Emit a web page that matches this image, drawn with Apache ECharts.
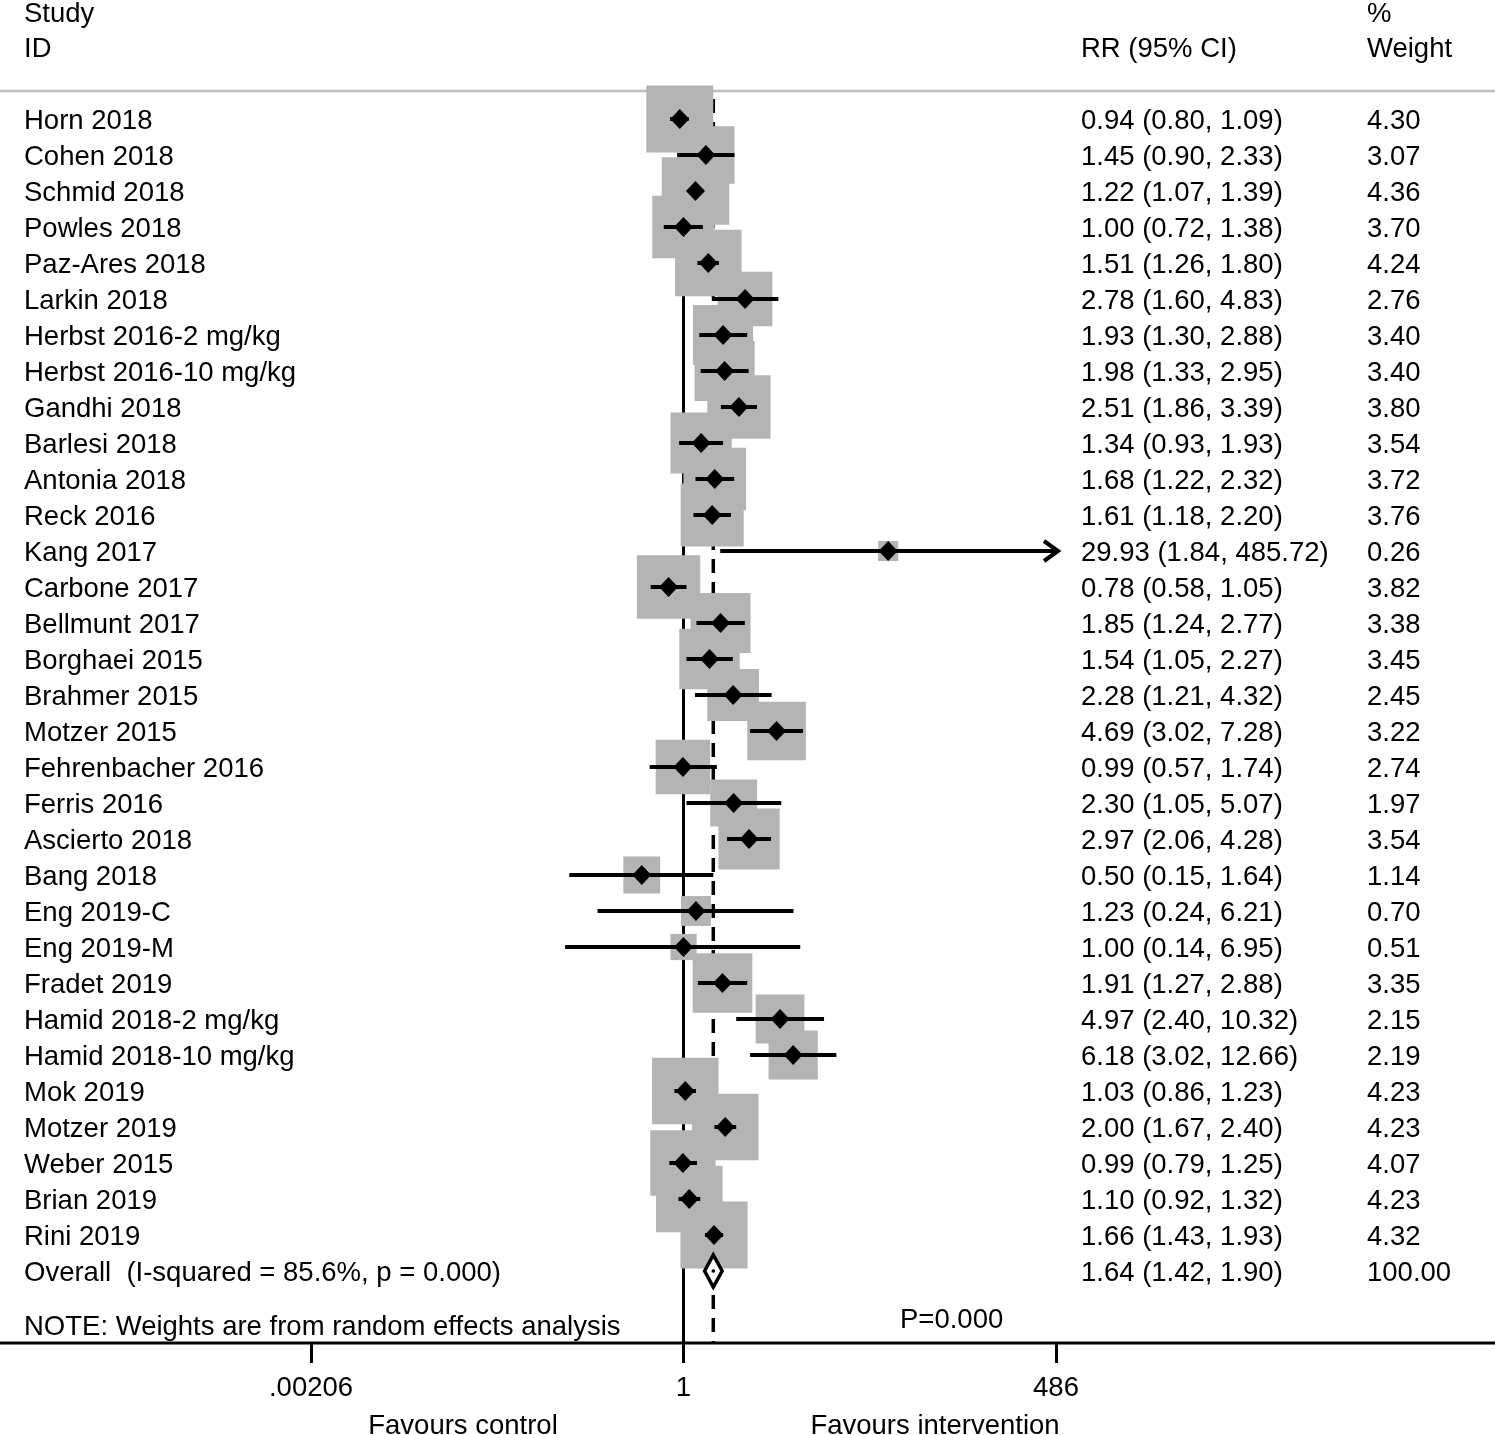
<!DOCTYPE html>
<html>
<head>
<meta charset="utf-8">
<script src="https://cdn.jsdelivr.net/npm/echarts@6/dist/echarts.min.js"></script>
<style>
html,body{margin:0;padding:0;background:#fff;}
#chart{width:1495px;height:1435px;}
</style>
</head>
<body>
<div id="chart"></div>
<script>
const studies = ['Horn 2018','Cohen 2018','Schmid 2018','Powles 2018','Paz-Ares 2018','Larkin 2018','Herbst 2016-2 mg/kg','Herbst 2016-10 mg/kg','Gandhi 2018','Barlesi 2018','Antonia 2018','Reck 2016','Kang 2017','Carbone 2017','Bellmunt 2017','Borghaei 2015','Brahmer 2015','Motzer 2015','Fehrenbacher 2016','Ferris 2016','Ascierto 2018','Bang 2018','Eng 2019-C','Eng 2019-M','Fradet 2019','Hamid 2018-2 mg/kg','Hamid 2018-10 mg/kg','Mok 2019','Motzer 2019','Weber 2015','Brian 2019','Rini 2019'];
const rr = [0.94,1.45,1.22,1.00,1.51,2.78,1.93,1.98,2.51,1.34,1.68,1.61,29.93,0.78,1.85,1.54,2.28,4.69,0.99,2.30,2.97,0.50,1.23,1.00,1.91,4.97,6.18,1.03,2.00,0.99,1.10,1.66];
const lo = [0.80,0.90,1.07,0.72,1.26,1.60,1.30,1.33,1.86,0.93,1.22,1.18,1.84,0.58,1.24,1.05,1.21,3.02,0.57,1.05,2.06,0.15,0.24,0.14,1.27,2.40,3.02,0.86,1.67,0.79,0.92,1.43];
const hi = [1.09,2.33,1.39,1.38,1.80,4.83,2.88,2.95,3.39,1.93,2.32,2.20,485.72,1.05,2.77,2.27,4.32,7.28,1.74,5.07,4.28,1.64,6.21,6.95,2.88,10.32,12.66,1.23,2.40,1.25,1.32,1.93];
const weights = [4.30,3.07,4.36,3.70,4.24,2.76,3.40,3.40,3.80,3.54,3.72,3.76,0.26,3.82,3.38,3.45,2.45,3.22,2.74,1.97,3.54,1.14,0.70,0.51,3.35,2.15,2.19,4.23,4.23,4.07,4.23,4.32];
const overallLabel = 'Overall  (I-squared = 85.6%, p = 0.000)';
const overallRR = 1.64, overallLo = 1.42, overallHi = 1.90, overallWeight = 100.00;
const tickLabels = ['.00206', '1', '486'];
const axisMin = 1/486, axisMax = 486;

const FONT = '27.5px "Liberation Sans", Arial, Helvetica, sans-serif';
const FF = '"Liberation Sans", Arial, Helvetica, sans-serif';
const nRows = studies.length;
const overallRow = nRows;
const TDY = 2;

const studyData = studies.map((s, i) => [rr[i], i, lo[i], hi[i], weights[i]]);
const textData = studies.map((s, i) => [rr[i], i]).concat([[overallRR, overallRow]]);
const allNames = studies.concat([overallLabel]);
const allRRText = rr.map((v, i) => v.toFixed(2) + ' (' + lo[i].toFixed(2) + ', ' + hi[i].toFixed(2) + ')')
  .concat([overallRR.toFixed(2) + ' (' + overallLo.toFixed(2) + ', ' + overallHi.toFixed(2) + ')']);
const allWText = weights.map(v => v.toFixed(2)).concat([overallWeight.toFixed(2)]);

const yMin = -0.7778, yMax = 34;

function gtext(x, y, t, center) {
  const st = { text: t, font: FONT, fill: '#000', verticalAlign: 'middle', textVerticalAlign: 'middle' };
  if (center) { st.align = 'center'; st.textAlign = 'center'; }
  return { type: 'text', x: x, y: y + TDY, style: st };
}

const chart = echarts.init(document.getElementById('chart'));
const option = {
  backgroundColor: '#fff',
  animation: false,
  grid: { left: 311, right: 439, top: 91, bottom: 92, containLabel: false },
  xAxis: {
    type: 'log', logBase: 486, min: axisMin, max: axisMax, interval: 1, position: 'bottom',
    splitLine: { show: false },
    axisLine: { show: false, onZero: false },
    axisTick: { show: true, length: 20, lineStyle: { color: '#000', width: 3 } },
    axisLabel: {
      margin: 31, color: '#000', fontSize: 27.5, fontFamily: FF,
      formatter: function (v) { return v < 0.01 ? tickLabels[0] : (v < 10 ? tickLabels[1] : tickLabels[2]); }
    }
  },
  yAxis: { type: 'value', inverse: true, min: yMin, max: yMax, show: false },
  series: [
    { // reference lines
      type: 'custom', z: 1, silent: true,
      data: [[overallRR, 0]],
      renderItem: function (params, api) {
        const top = api.coord([1, yMin])[1];
        const bot = api.coord([1, yMax])[1];
        const x1 = api.coord([1, 0])[0];
        const xo = api.coord([api.value(0), 0])[0];
        return { type: 'group', children: [
          { type: 'line', shape: { x1: 0, y1: top, x2: api.getWidth(), y2: top }, style: { stroke: '#bdbdbd', lineWidth: 2.5 } },
          { type: 'line', shape: { x1: x1, y1: top, x2: x1, y2: bot }, style: { stroke: '#000', lineWidth: 3 } },
          { type: 'line', shape: { x1: xo, y1: top + 8, x2: xo, y2: bot }, style: { stroke: '#000', lineWidth: 3.5, lineDash: [14, 9] } }
        ] };
      }
    },
    { // weight boxes
      type: 'custom', z: 2, silent: true, clip: false,
      data: studyData,
      renderItem: function (params, api) {
        const c = api.coord([api.value(0), api.value(1)]);
        const side = 4.8 + 30 * Math.sqrt(api.value(4));
        return { type: 'rect', shape: { x: c[0] - side / 2, y: c[1] - side / 2, width: side, height: side }, style: { fill: '#b4b4b4' } };
      }
    },
    { // confidence intervals
      type: 'custom', z: 3, silent: true, clip: false,
      data: studyData,
      renderItem: function (params, api) {
        const y = api.coord([1, api.value(1)])[1];
        const xl = api.coord([api.value(2), 0])[0];
        const maxPix = api.coord([axisMax, 0])[0];
        let xh = api.coord([api.value(3), 0])[0];
        const children = [];
        if (maxPix - xh < 5) {
          xh = maxPix + 2;
          children.push({ type: 'polyline', shape: { points: [[xh - 14, y - 10], [xh, y], [xh - 14, y + 10]] }, style: { stroke: '#000', lineWidth: 4, fill: null } });
        }
        children.unshift({ type: 'line', shape: { x1: xl, y1: y, x2: xh, y2: y }, style: { stroke: '#000', lineWidth: 4 } });
        return { type: 'group', children: children };
      }
    },
    { // point estimates
      type: 'custom', z: 4, silent: true, clip: false,
      data: studyData,
      renderItem: function (params, api) {
        const c = api.coord([api.value(0), api.value(1)]);
        const w = 9.5, h = 10;
        return { type: 'polygon', shape: { points: [[c[0] - w, c[1]], [c[0], c[1] - h], [c[0] + w, c[1]], [c[0], c[1] + h]] }, style: { fill: '#000' } };
      }
    },
    { // overall diamond
      type: 'custom', z: 5, silent: true, clip: false,
      data: [[overallRR, overallRow, overallLo, overallHi]],
      renderItem: function (params, api) {
        const c = api.coord([api.value(0), api.value(1)]);
        const xl = api.coord([api.value(2), 0])[0];
        const xh = api.coord([api.value(3), 0])[0];
        const h = 16;
        return { type: 'group', children: [
          { type: 'polygon', shape: { points: [[xl, c[1]], [c[0], c[1] - h], [xh, c[1]], [c[0], c[1] + h]] }, style: { fill: '#fff', stroke: '#000', lineWidth: 3.5 } },
          { type: 'circle', shape: { cx: c[0], cy: c[1], r: 1.8 }, style: { fill: '#000' } }
        ] };
      }
    },
    { // text columns
      type: 'custom', z: 6, silent: true, clip: false,
      data: textData,
      renderItem: function (params, api) {
        const i = params.dataIndex;
        const y = api.coord([1, api.value(1)])[1] + TDY;
        const mk = (x, t) => ({ type: 'text', style: { text: t, x: x, y: y, font: FONT, fill: '#000', align: 'left', verticalAlign: 'middle', textAlign: 'left', textVerticalAlign: 'middle' } });
        return { type: 'group', children: [mk(24, allNames[i]), mk(1081, allRRText[i]), mk(1367, allWText[i])] };
      }
    }
  ],
  graphic: [
    { type: 'line', z: 10, shape: { x1: 0, y1: 1343, x2: 1495, y2: 1343 }, style: { stroke: '#000', lineWidth: 3 } },
    gtext(24, 12, 'Study'),
    gtext(24, 47, 'ID'),
    gtext(1081, 47, 'RR (95% CI)'),
    gtext(1367, 12, '%'),
    gtext(1367, 47, 'Weight'),
    gtext(24, 1325, 'NOTE: Weights are from random effects analysis'),
    gtext(900, 1318, 'P=0.000'),
    gtext(463, 1424, 'Favours control', true),
    gtext(935, 1424, 'Favours intervention', true)
  ]
};
chart.setOption(option);
</script>
</body>
</html>
